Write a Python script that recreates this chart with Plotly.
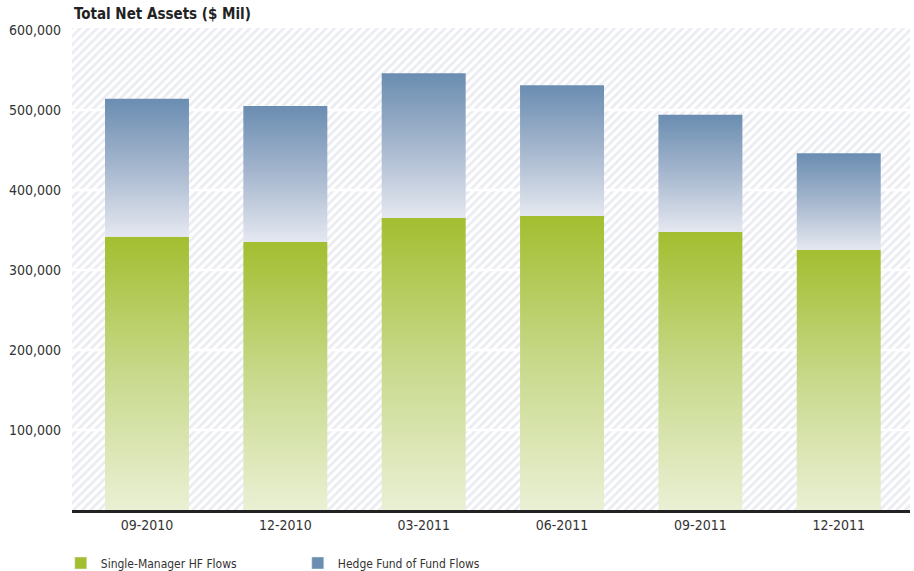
import plotly.graph_objects as go

# Quarter-end periods
periods = ["09-2010", "12-2010", "03-2011", "06-2011", "09-2011", "12-2011"]

# Total net assets ($ Mil) by segment
single_manager = [341600, 335000, 365000, 367500, 347500, 325000]
fund_of_funds = [172400, 170000, 181000, 163500, 146500, 121000]

# Axis ticks
y_ticks = [100000, 200000, 300000, 400000, 500000, 600000]
y_tick_text = ["100,000", "200,000", "300,000", "400,000", "500,000", "600,000"]

FONT = "DejaVu Sans Condensed, Liberation Sans Narrow, sans-serif"
BAR_W = 0.607
X_RANGE = [-0.542, 5.515]
Y_RANGE = [0, 602500]

GREEN_SCALE = [[0, "#eaf0d4"], [0.5, "#c8d98b"], [1, "#a3be30"]]
BLUE_SCALE = [[0, "#e5e8f0"], [0.5, "#a6b7ce"], [1, "#6a8db1"]]

fig = go.Figure()

# hatched plot background
fig.add_trace(go.Scatter(
    x=X_RANGE, y=[Y_RANGE[1], Y_RANGE[1]], mode="none", fill="tozeroy",
    fillcolor="white",
    fillpattern=dict(shape="/", fgcolor="#d5d9e6", bgcolor="white", size=6, solidity=0.45),
    showlegend=False, hoverinfo="skip",
))

# white gridlines over the hatching
for v in y_ticks[:-1]:
    fig.add_trace(go.Scatter(
        x=X_RANGE, y=[v, v], mode="lines", line=dict(color="white", width=2.5),
        showlegend=False, hoverinfo="skip",
    ))


def segment(i, base, height, scale):
    x0, x1 = i - BAR_W / 2, i + BAR_W / 2
    y0, y1 = base, base + height
    return go.Scatter(
        x=[x0, x1, x1, x0, x0], y=[y0, y0, y1, y1, y0],
        mode="lines", line=dict(width=0), fill="toself",
        fillgradient=dict(type="vertical", colorscale=scale, start=y0, stop=y1),
        showlegend=False, hoverinfo="skip",
    )


# stacked bars with vertical gradients
for i, (s, f) in enumerate(zip(single_manager, fund_of_funds)):
    fig.add_trace(segment(i, 0, s, GREEN_SCALE))
    fig.add_trace(segment(i, s, f, BLUE_SCALE))

# legend entries
fig.add_trace(go.Bar(x=[None], y=[None], name="Single-Manager HF Flows",
                     marker_color="#a3be30"))
fig.add_trace(go.Bar(x=[None], y=[None], name="Hedge Fund of Fund Flows",
                     marker_color="#6a8db1"))

fig.update_layout(
    width=914, height=571,
    margin=dict(l=72, r=4, t=28, b=61),
    paper_bgcolor="white", plot_bgcolor="white",
    font=dict(family=FONT, size=14, color="#333333"),
    showlegend=True,
    legend=dict(orientation="h", xref="container", yref="container",
                x=0.0665, xanchor="left", y=0.014, yanchor="middle",
                font=dict(size=12, color="#333333"), entrywidth=192,
                itemclick=False, itemdoubleclick=False, bgcolor="rgba(0,0,0,0)"),
    xaxis=dict(range=X_RANGE, tickvals=list(range(len(periods))), ticktext=periods,
               showgrid=False, zeroline=False, showline=True, linecolor="#222222",
               linewidth=3, ticks="", tickfont=dict(size=14, color="#333333"),
               fixedrange=True),
    yaxis=dict(range=Y_RANGE, tickvals=y_ticks, ticktext=y_tick_text,
               showgrid=False, zeroline=False, showline=False, ticks="",
               ticklabelstandoff=10, tickfont=dict(size=14, color="#333333"),
               fixedrange=True),
    annotations=[dict(text="<b>Total Net Assets ($ Mil)</b>", xref="paper", yref="paper",
                      x=0, y=1, xanchor="left", yanchor="bottom", yshift=3,
                      showarrow=False, font=dict(family=FONT, size=15, color="#222222"))],
)

fig.write_html("out.html")
